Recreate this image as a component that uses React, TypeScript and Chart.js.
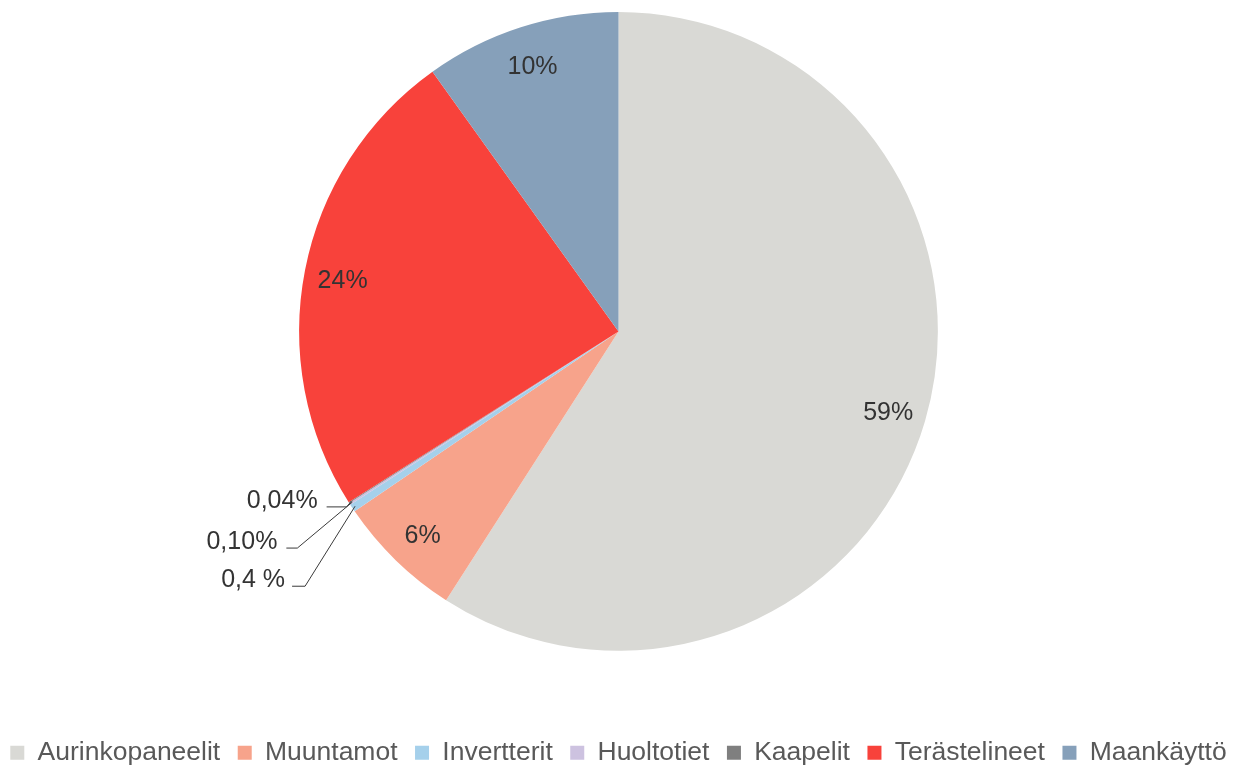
import React, { useEffect, useRef } from 'react';
import { Chart, registerables } from 'chart.js';

Chart.register(...registerables);

const categories = ['Aurinkopaneelit', 'Muuntamot', 'Invertterit', 'Huoltotiet', 'Kaapelit', 'Terästelineet', 'Maankäyttö'];
const shares = [59.1, 6.4, 0.4, 0.1, 0.04, 24.1, 9.9];
const valueLabels = ['59%', '6%', '0,4 %', '0,10%', '0,04%', '24%', '10%'];
const colors = ['#D9D9D5', '#F7A38B', '#A5D0EB', '#CDC2E0', '#7F7F7F', '#F8423B', '#86A0BA'];

const FONT = '"Liberation Sans", Arial, sans-serif';

// leader-line layout for the tiny slices (offsets from the slice's outer edge)
const LEADERS: Record<number, { dx: number; dy: number; len: number; gap: number }> = {
  2: { dx: -50, dy: 80, len: 13, gap: 7 },
  3: { dx: -55, dy: 46, len: 11, gap: 9 },
  4: { dx: -5, dy: 6, len: 20, gap: 9 },
};

const sliceLabels = {
  id: 'sliceLabels',
  afterDatasetsDraw(chart: any) {
    const ctx = chart.ctx;
    const meta = chart.getDatasetMeta(0);
    ctx.save();
    ctx.font = `25px ${FONT}`;
    ctx.fillStyle = '#333333';
    ctx.strokeStyle = '#3a3a3a';
    ctx.lineWidth = 1;
    meta.data.forEach((arc: any, i: number) => {
      const { x, y, startAngle, endAngle, outerRadius } = arc.getProps(
        ['x', 'y', 'startAngle', 'endAngle', 'outerRadius'],
        true
      );
      const mid = (startAngle + endAngle) / 2;
      const lead = LEADERS[i];
      if (lead) {
        const ax = x + Math.cos(mid) * outerRadius * 0.99;
        const ay = y + Math.sin(mid) * outerRadius * 0.99;
        const ex = ax + lead.dx;
        const ey = ay + lead.dy;
        const hx = ex - lead.len;
        ctx.beginPath();
        ctx.moveTo(ax, ay);
        ctx.lineTo(ex, ey);
        ctx.lineTo(hx, ey);
        ctx.stroke();
        ctx.textAlign = 'right';
        ctx.textBaseline = 'middle';
        ctx.fillText(valueLabels[i], hx - lead.gap, ey - 6);
      } else {
        const r = outerRadius * 0.88;
        ctx.textAlign = 'center';
        ctx.textBaseline = 'middle';
        ctx.fillText(valueLabels[i], x + Math.cos(mid) * r, y + Math.sin(mid) * r + 3);
      }
    });
    ctx.restore();
  },
};

export default function App() {
  const ref = useRef<HTMLCanvasElement | null>(null);

  useEffect(() => {
    if (!ref.current) return;
    const chart = new Chart(ref.current, {
      type: 'pie',
      data: {
        labels: categories,
        datasets: [
          {
            data: shares,
            backgroundColor: colors,
            borderWidth: 0,
          },
        ],
      },
      options: {
        animation: false,
        responsive: true,
        maintainAspectRatio: false,
        layout: { padding: { top: 12, left: -10, right: -10, bottom: 0 } },
        plugins: {
          tooltip: { enabled: false },
          legend: {
            position: 'bottom',
            align: 'center',
            title: {
              display: true,
              text: '',
              padding: { top: 61.25, bottom: 0 },
              font: { size: 10, lineHeight: 1 },
            },
            labels: {
              boxWidth: 14,
              boxHeight: 14,
              padding: 17.5,
              color: '#595959',
              font: { family: FONT, size: 26.5 },
            },
          },
        },
      },
      plugins: [sliceLabels],
    });
    return () => chart.destroy();
  }, []);

  return (
    <div style={{ position: 'fixed', left: 0, top: 0, width: 1237, height: 776, background: '#fff' }}>
      <canvas ref={ref} />
    </div>
  );
}
